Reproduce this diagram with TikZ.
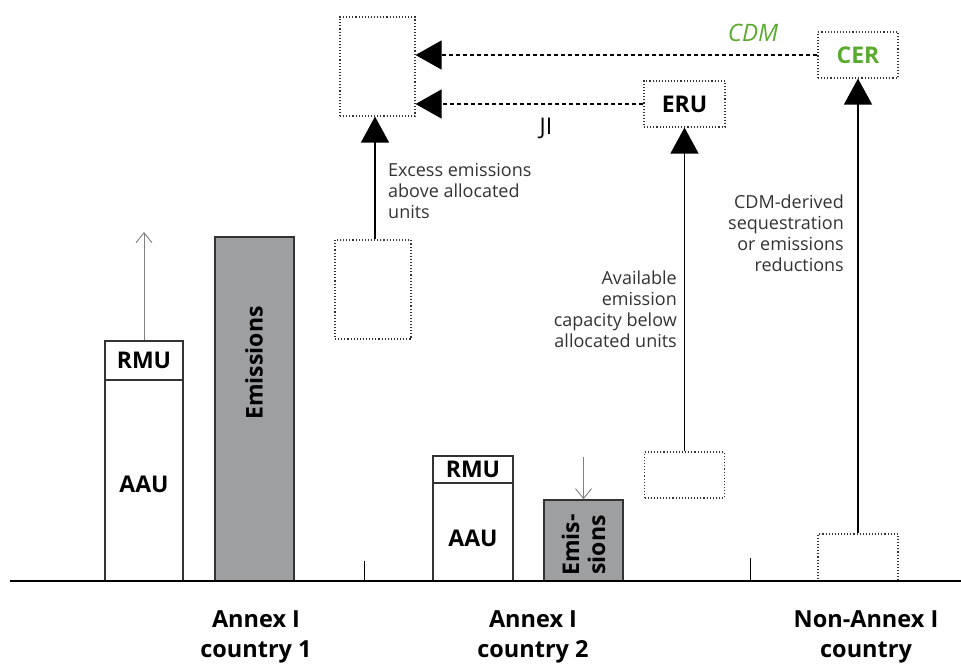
\documentclass[tikz,border=0pt]{standalone}
\usepackage{fontspec}
\setmainfont{Open Sans}
\usetikzlibrary{arrows.meta}
\definecolor{bargray}{HTML}{9E9FA1}
\definecolor{cdmgreen}{HTML}{5AAA2F}
\definecolor{txtgray}{HTML}{333333}
\tikzset{
  boldtxt/.style={font=\fontsize{23}{27}\selectfont\bfseries},
  bar/.style={draw=txtgray, line width=1.4pt, rectangle, inner sep=0pt, boldtxt},
  dotbox/.style={draw=txtgray, dotted, line width=1.1pt, rectangle, inner sep=0pt},
  bigarrow/.style={line width=1.3pt, -{Triangle[length=26pt,width=28pt]}},
  dasharrow/.style={line width=1.1pt, dash pattern=on 4pt off 3pt, -{Triangle[length=26pt,width=29pt]}},
  grayarrow/.style={draw=gray, line width=0.9pt, -{Straight Barb[length=10pt,width=16pt]}},
  note/.style={text=txtgray, font=\fontsize{18}{21}\selectfont, inner sep=0pt},
  country/.style={font=\fontsize{23.5}{30}\selectfont\bfseries, align=center, inner sep=0pt},
  tick/.style={line width=1pt}
}
\begin{document}
\begin{tikzpicture}[x=1pt,y=-1pt]
\useasboundingbox (0,0) rectangle (961,665);
% baseline
\coordinate (bl) at (10,581);
\coordinate (br) at (961,581);
% country 1
\node[bar, minimum width=78, minimum height=201] (aau1) at (144,480.5) {};
\node[boldtxt, inner sep=0pt] (aau1t) at (144,484) {AAU};
\node[bar, minimum width=78, minimum height=39] (rmu1) at (144,360.5) {RMU};
\node[bar, fill=bargray, minimum width=79, minimum height=344] (em1) at (254.5,409) {};
\node[boldtxt, rotate=90, inner sep=0pt] (em1t) at (254,363) {Emissions};
\coordinate (up1) at (144,232);
% excess box and top box
\node[dotbox, minimum width=76, minimum height=99] (ex1) at (373,289.5) {};
\node[dotbox, minimum width=75, minimum height=99] (top) at (377.5,66.5) {};
% country 2
\node[bar, minimum width=80, minimum height=98] (aau2) at (473,532) {};
\node[boldtxt, inner sep=0pt] (aau2t) at (473,538) {AAU};
\node[bar, minimum width=80, minimum height=27] (rmu2) at (473,469.5) {RMU};
\node[bar, fill=bargray, minimum width=79, minimum height=81] (em2) at (583.5,540.5) {};
\node[font=\fontsize{23}{26}\selectfont\bfseries, rotate=90, align=center, inner sep=0pt] (em2t) at (583.5,545) {Emis-\\sions};
\coordinate (dn2) at (583.5,457);
% ERU and CER
\node[dotbox, minimum width=81, minimum height=46, boldtxt] (eru) at (684.5,104) {ERU};
\node[dotbox, minimum width=80, minimum height=46, boldtxt, text=cdmgreen] (cer) at (858,55) {CER};
\node[dotbox, minimum width=80, minimum height=46] (lo2) at (684.5,475) {};
\node[dotbox, minimum width=80, minimum height=47] (lo3) at (858,557.5) {};
% ticks
\coordinate (t1a) at (364,561); \coordinate (t1b) at (364,581);
\coordinate (t2a) at (750,558); \coordinate (t2b) at (750,581);
% connectors
\draw[grayarrow] (rmu1.north) -- (up1);
\draw[grayarrow] (dn2) -- (em2.north);
\draw[bigarrow] (ex1.north -| 375,0) -- (top.south -| 375,0);
\draw[bigarrow] (lo2.north) -- (eru.south);
\draw[bigarrow] (lo3.north) -- (cer.south);
\draw[dasharrow] (cer.west) -- (cer.west -| top.east);
\draw[dasharrow] (eru.west) -- (eru.west -| top.east);
\draw[tick] (t1a) -- (t1b);
\draw[tick] (t2a) -- (t2b);
\draw[line width=2.8pt] (bl) -- (br);
% labels
\node[text=cdmgreen, font=\fontsize{24}{26}\selectfont\itshape, inner sep=0pt] (cdm) at (753,33) {CDM};
\node[font=\fontsize{23}{26}\selectfont, inner sep=0pt] (ji) at (546,128) {JI};
\node[note, align=left, anchor=north west] (exc) at (388,163) {Excess emissions\\above allocated\\units};
\node[note, align=right, anchor=north east] (avl) at (677,271) {Available\\emission\\capacity below\\allocated units};
\node[note, align=right, anchor=north east] (cdmd) at (844,195) {CDM-derived\\sequestration\\or emissions\\reductions};
\node[country] (c1) at (256,637) {Annex I\\country 1};
\node[country] (c2) at (533,637) {Annex I\\country 2};
\node[country] (c3) at (866,637) {Non-Annex I\\country};
\end{tikzpicture}
\end{document}
